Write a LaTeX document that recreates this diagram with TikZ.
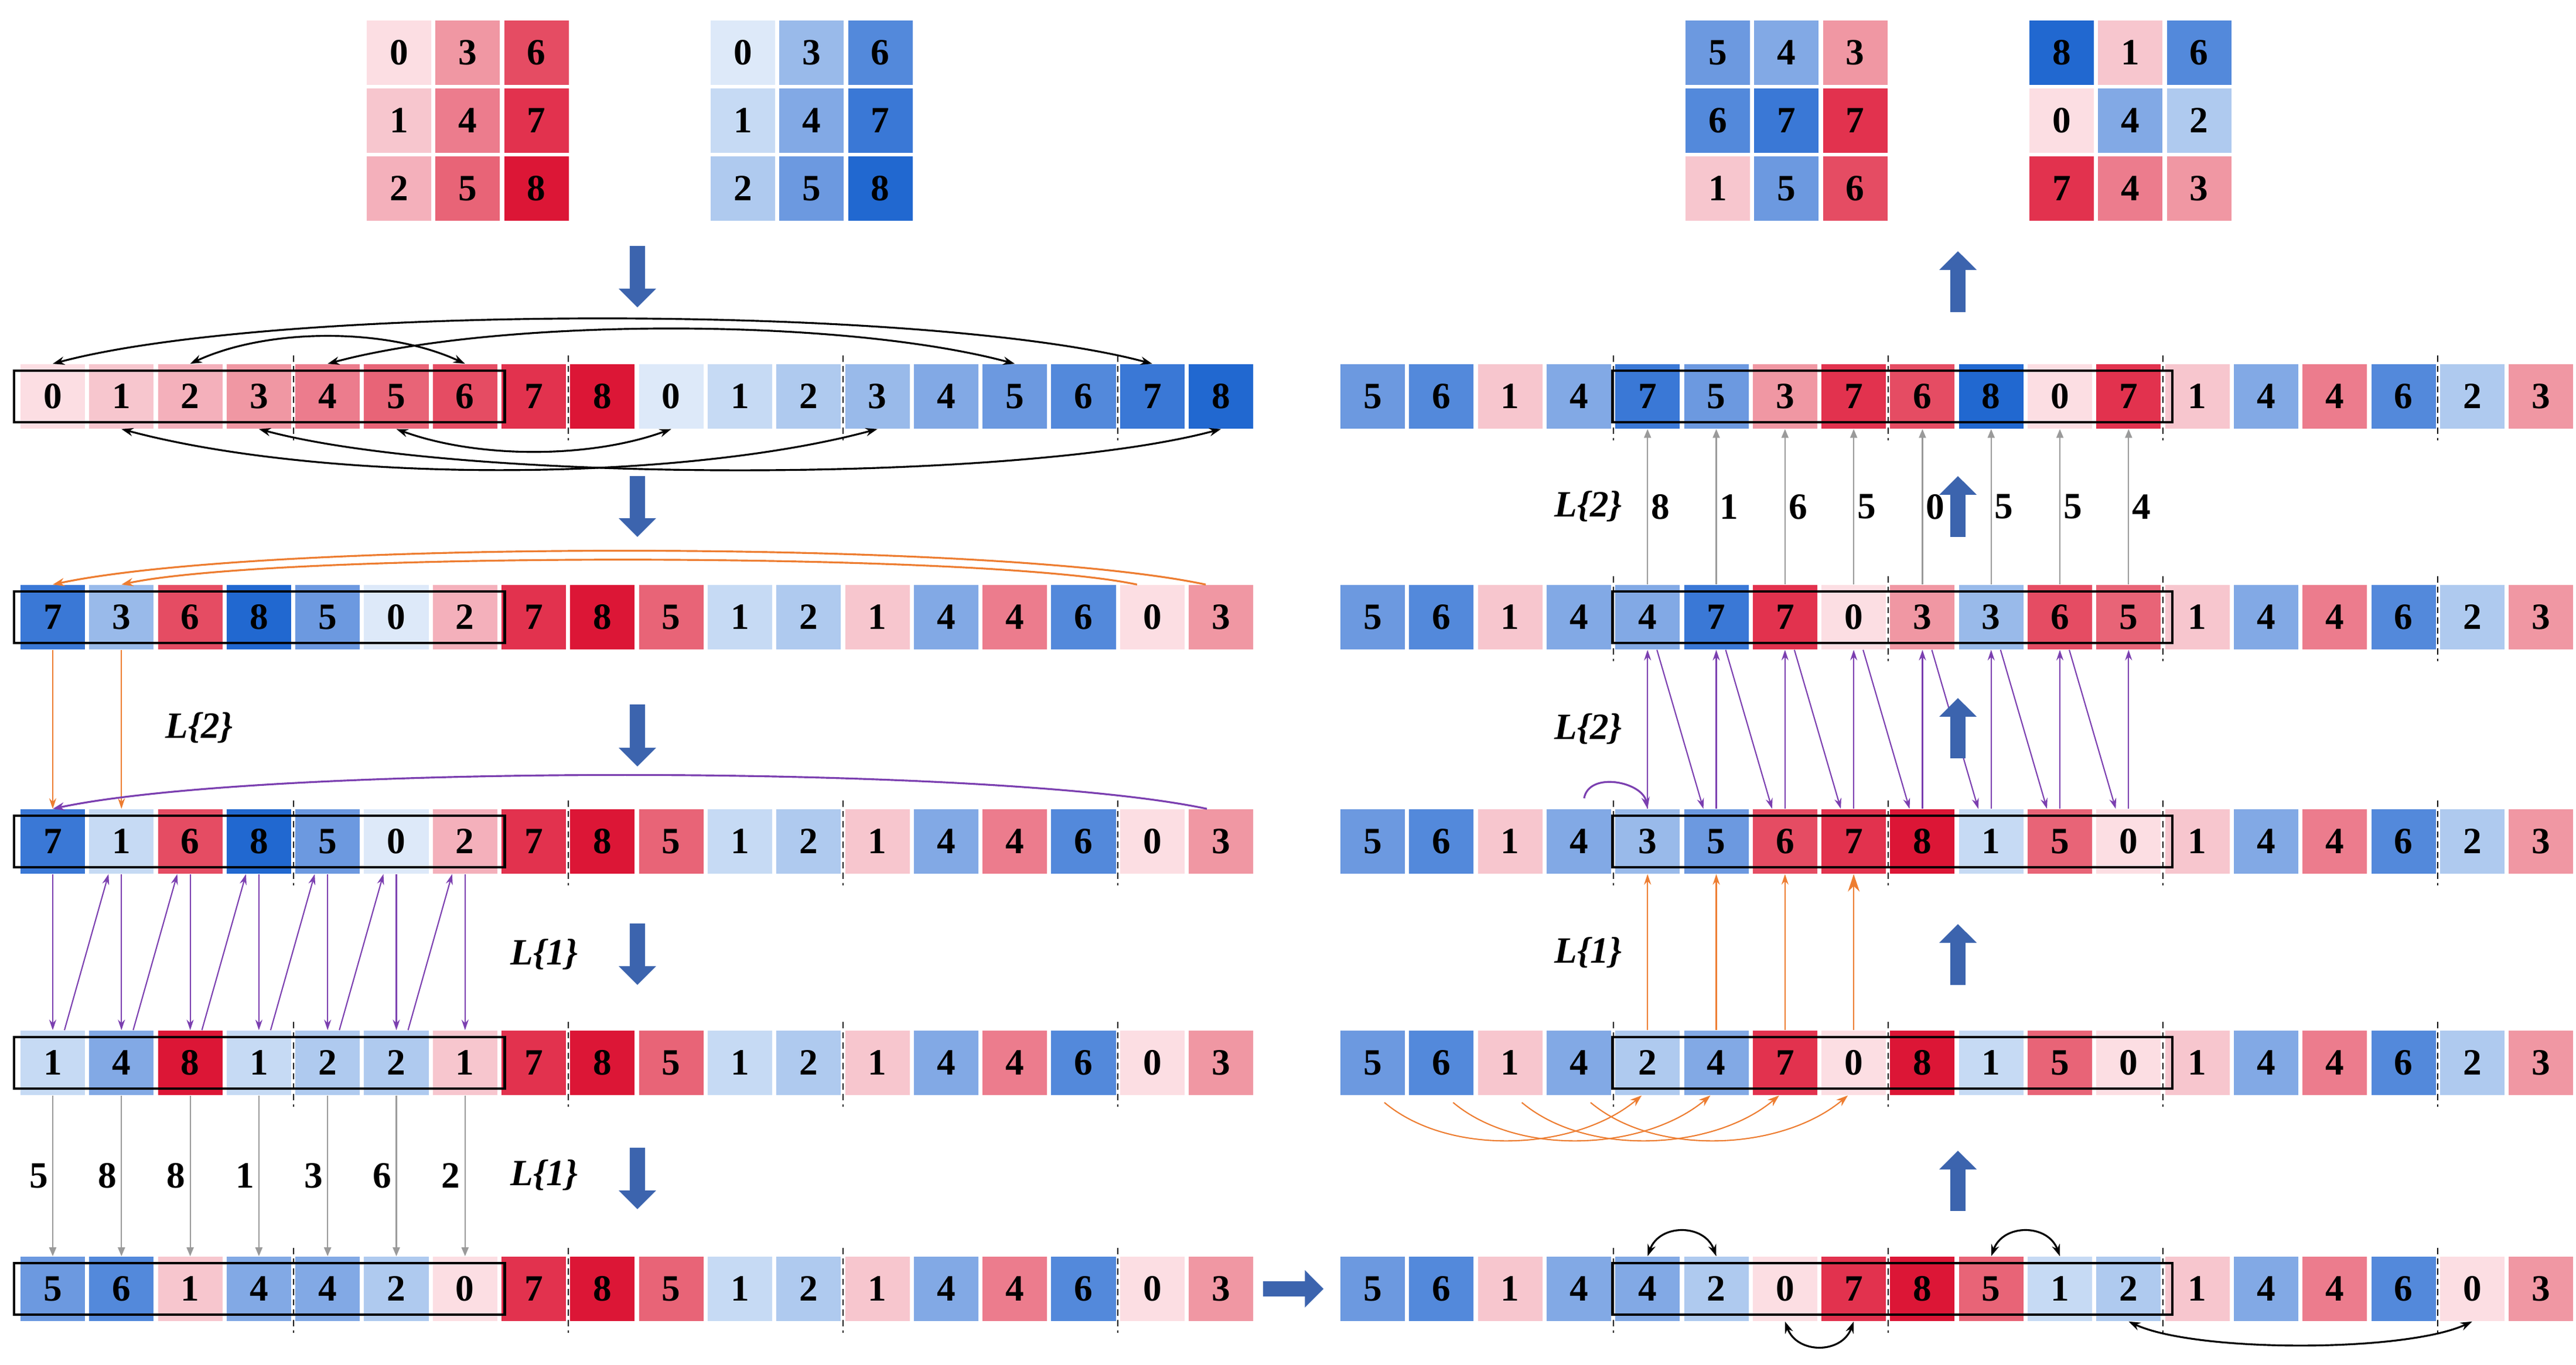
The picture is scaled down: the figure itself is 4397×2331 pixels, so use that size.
\documentclass[tikz,border=0pt]{standalone}
\usepackage{fontspec}
\setmainfont{Liberation Serif}
\usepackage{tikz}
\usetikzlibrary{arrows.meta}
\usetikzlibrary{positioning}

\definecolor{r0}{HTML}{FCDEE3}
\definecolor{r1}{HTML}{F7C6CE}
\definecolor{r2}{HTML}{F4B0BB}
\definecolor{r3}{HTML}{F097A3}
\definecolor{r4}{HTML}{EC7C8D}
\definecolor{r5}{HTML}{E86477}
\definecolor{r6}{HTML}{E54C63}
\definecolor{r7}{HTML}{E2324E}
\definecolor{r8}{HTML}{DC1636}
\definecolor{b0}{HTML}{DDE9F9}
\definecolor{b1}{HTML}{C6DAF4}
\definecolor{b2}{HTML}{AFCAEF}
\definecolor{b3}{HTML}{99BAEA}
\definecolor{b4}{HTML}{82A9E5}
\definecolor{b5}{HTML}{6C99E0}
\definecolor{b6}{HTML}{5389DB}
\definecolor{b7}{HTML}{3A78D6}
\definecolor{b8}{HTML}{2168D0}
\definecolor{flowblue}{HTML}{3C64AE}
\definecolor{moveorange}{HTML}{ED7D31}
\definecolor{movepurple}{HTML}{7B3FB0}
\definecolor{movegrey}{HTML}{9A9A9A}

\begin{document}
\begin{tikzpicture}[x=0.01cm,y=0.01cm]
	\tikzset{
		cell/.style={minimum width=1.1cm,minimum height=1.1cm,inner sep=0,font=\fontsize{18}{20}\selectfont\bfseries},
		lbl/.style={inner sep=0,font=\fontsize{18}{20}\selectfont\bfseries},
		lname/.style={inner sep=0,font=\fontsize{18}{20}\selectfont\bfseries\itshape},
		window/.style={draw=black,line width=1.2pt},
		cutline/.style={draw=black,line width=0.5pt,dash pattern=on 3pt off 2pt},
		%
		swaparc/.style={line width=0.9pt,{Stealth[length=0.2cm,width=0.14cm]}-{Stealth[length=0.2cm,width=0.14cm]}},
		orangearc/.style={draw=moveorange,line width=0.9pt,-{Stealth[length=0.2cm,width=0.14cm]}},
		purplearc/.style={draw=movepurple,line width=0.9pt,-{Stealth[length=0.2cm,width=0.14cm]}},
		orangearr/.style={draw=moveorange,line width=0.6pt,-{Stealth[length=0.18cm,width=0.12cm]}},
		purplearr/.style={draw=movepurple,line width=0.6pt,-{Stealth[length=0.18cm,width=0.12cm]}},
		greyarr/.style={draw=movegrey,line width=0.6pt,-{Triangle[length=0.15cm,width=0.12cm]}},
		%
		bigarrow/.style={draw=flowblue,line width=0.26cm,-{Triangle[length=0.32cm,width=0.62cm]}}
	}
	
	\useasboundingbox (0,0) rectangle (4397,2331);
	
	% 3x3 matrices
	\foreach \m/\xs/\cells in {M1/681/{0/r,3/r,6/r,1/r,4/r,7/r,2/r,5/r,8/r},M2/1268/{0/b,3/b,6/b,1/b,4/b,7/b,2/b,5/b,8/b},M3/2932/{5/b,4/b,3/r,6/b,7/b,7/r,1/r,5/b,6/r},M4/3519/{8/b,1/r,6/b,0/r,4/b,2/b,7/r,4/r,3/r}}{
		\foreach \v/\c [count=\i from 0] in \cells {
			\pgfmathtruncatemacro{\col}{mod(\i,3)}
			\pgfmathtruncatemacro{\rw}{div(\i,3)}
			\node[cell,fill=\c\v] (\m-\i) at (\xs+\col*117.3,2241-\rw*116) {\v};
	}}
	
	% rows
	\foreach \row/\xs/\y/\cells in {
		L1/90/1654/{0/r,1/r,2/r,3/r,4/r,5/r,6/r,7/r,8/r,0/b,1/b,2/b,3/b,4/b,5/b,6/b,7/b,8/b},
		L2/90/1277/{7/b,3/b,6/r,8/b,5/b,0/b,2/r,7/r,8/r,5/r,1/b,2/b,1/r,4/b,4/r,6/b,0/r,3/r},
		L3/90/894/{7/b,1/b,6/r,8/b,5/b,0/b,2/r,7/r,8/r,5/r,1/b,2/b,1/r,4/b,4/r,6/b,0/r,3/r},
		L4/90/516/{1/b,4/b,8/r,1/b,2/b,2/b,1/r,7/r,8/r,5/r,1/b,2/b,1/r,4/b,4/r,6/b,0/r,3/r},
		L5/90/130/{5/b,6/b,1/r,4/b,4/b,2/b,0/r,7/r,8/r,5/r,1/b,2/b,1/r,4/b,4/r,6/b,0/r,3/r},
		R1/2343/1654/{5/b,6/b,1/r,4/b,7/b,5/b,3/r,7/r,6/r,8/b,0/r,7/r,1/r,4/b,4/r,6/b,2/b,3/r},
		R2/2343/1277/{5/b,6/b,1/r,4/b,4/b,7/b,7/r,0/r,3/r,3/b,6/r,5/r,1/r,4/b,4/r,6/b,2/b,3/r},
		R3/2343/894/{5/b,6/b,1/r,4/b,3/b,5/b,6/r,7/r,8/r,1/b,5/r,0/r,1/r,4/b,4/r,6/b,2/b,3/r},
		R4/2343/516/{5/b,6/b,1/r,4/b,2/b,4/b,7/r,0/r,8/r,1/b,5/r,0/r,1/r,4/b,4/r,6/b,2/b,3/r},
		R5/2343/130/{5/b,6/b,1/r,4/b,4/b,2/b,0/r,7/r,8/r,5/r,1/b,2/b,1/r,4/b,4/r,6/b,0/r,3/r}}{
		\foreach \v/\c [count=\i from 0] in \cells
			\node[cell,fill=\c\v] (\row-\i) at (\xs+\i*117.3,\y) {\v};
	}
	
	% block borders
	\foreach \xs/\y in {35/1654,35/894,35/516,35/130,2288/1654,2288/1277,2288/894,2288/516,2288/130}
		\foreach \k in {4,8,12,16}
			\draw[cutline] (\xs+\k*117.3-3.5,\y+70) -- (\xs+\k*117.3-3.5,\y-75);
	
	\foreach \row in {L1,L2,L3,L4,L5}
		\draw[window] ([shift={(-10,44)}]\row-0.west) rectangle ([shift={(12,-44)}]\row-6.east);
	\foreach \row in {R1,R2,R3,R4,R5}
		\draw[window] ([shift={(-4,44)}]\row-4.west) rectangle ([shift={(19,-44)}]\row-11.east);
	
	% left: swaps in the first row
	\draw[swaparc] (L1-0.north) to[out=15,in=165,looseness=0.54] (L1-16.north);
	\draw[swaparc] (L1-2.north) to[out=25,in=155,looseness=0.8] (L1-6.north);
	\draw[swaparc] (L1-4.north) to[out=15,in=165,looseness=0.67] (L1-14.north);
	\draw[swaparc] (L1-1.south) to[out=-15,in=-165,looseness=0.71] (L1-12.south);
	\draw[swaparc] (L1-3.south) to[out=-15,in=-165,looseness=0.56] (L1-17.south);
	\draw[swaparc] (L1-5.south) to[out=-20,in=-160,looseness=0.81] (L1-9.south);
	
	\draw[orangearc] ([shift={(-26,0)}]L2-17.north) to[out=168,in=12,looseness=0.48] (L2-0.north);
	\draw[orangearc] ([shift={(-26,0)}]L2-16.north) to[out=168,in=12,looseness=0.4] (L2-1.north);
	\foreach \k in {0,1}
		\draw[orangearr] (L2-\k.south) -- (L3-\k.north);
	
	\draw[purplearc] ([shift={(-24,0)}]L3-17.north) to[out=168,in=12,looseness=0.48] (L3-0.north);
	\foreach \k in {0,...,6}
		\draw[purplearr] (L3-\k.south) -- (L4-\k.north);
	\foreach \k [evaluate=\k as \n using int(\k+1)] in {0,...,5}
		\draw[purplearr] ([shift={(20,0)}]L4-\k.north) -- ([shift={(-22,0)}]L3-\n.south);
	
	\foreach \k/\d in {0/5,1/8,2/8,3/1,4/3,5/6,6/2}
		\draw[greyarr] (L4-\k.south) -- node[lbl,xshift=-0.24cm] (wl\k) {\d} (L5-\k.north);
	
	\node[lname] (tagl2) at (340,1088) {L\{2\}};
	\node[lname] (tagl1a) at (929,701) {L\{1\}};
	\node[lname] (tagl1b) at (929,324) {L\{1\}};
	
	% right: from the last row back up
	\draw[swaparc] (R5-4.north) to[out=70,in=110,looseness=1.3] (R5-5.north);
	\draw[swaparc] (R5-9.north) to[out=70,in=110,looseness=1.3] (R5-10.north);
	\draw[swaparc] (R5-6.south) to[out=-70,in=-110,looseness=1.3] (R5-7.south);
	\draw[swaparc] (R5-11.south) to[out=-25,in=-155,looseness=0.55] (R5-16.south);
	
	\foreach \k [evaluate=\k as \n using int(\k+4)] in {0,...,3}
		\draw[orangearc,line width=0.6pt] ([shift={(20,-12)}]R4-\k.south) to[out=-40,in=-140,looseness=0.85] ([shift={(-10,0)}]R4-\n.south);
	\foreach \k in {4,5,6}
		\draw[orangearr] (R4-\k.north) -- (R3-\k.south);
	\draw[orangearr,-{Stealth[length=0.3cm,width=0.2cm]}] (R4-7.north) -- (R3-7.south);
	
	\coordinate (wrap) at ([shift={(9,18)}]R3-3.north);
	\draw[purplearc] (wrap) to[out=80,in=100,looseness=1.1] (R3-4.north);
	\foreach \k in {4,...,11}
		\draw[purplearr] (R3-\k.north) -- (R2-\k.south);
	\foreach \k [evaluate=\k as \n using int(\k+1)] in {4,...,10}
		\draw[purplearr] ([shift={(16,0)}]R2-\k.south) -- ([shift={(-22,0)}]R3-\n.north);
	
	\foreach \k/\d in {4/8,5/1,6/6,7/5,8/0,9/5,10/5,11/4}
		\draw[greyarr] (R2-\k.north) -- node[lbl,xshift=0.22cm] (wr\k) {\d} (R1-\k.south);
	
	\node[lname] (tagr2a) at (2711,1466) {L\{2\}};
	\node[lname] (tagr2b) at (2711,1086) {L\{2\}};
	\node[lname] (tagr1) at (2711,704) {L\{1\}};
	
	% flow arrows
	\foreach \ya/\yb in {1911/1806,1518/1414,1128/1022,754/649,371/266}
		\draw[bigarrow] (1088,\ya) -- (1088,\yb);
	\foreach \ya/\yb in {263/366,649/753,1036/1139,1414/1518,1798/1902}
		\draw[bigarrow] (3342,\ya) -- (3342,\yb);
	\draw[bigarrow,shorten <=0.16cm,shorten >=0.28cm] (L5-17.east) -- (R5-0.west);
	
\end{tikzpicture}
\end{document}
